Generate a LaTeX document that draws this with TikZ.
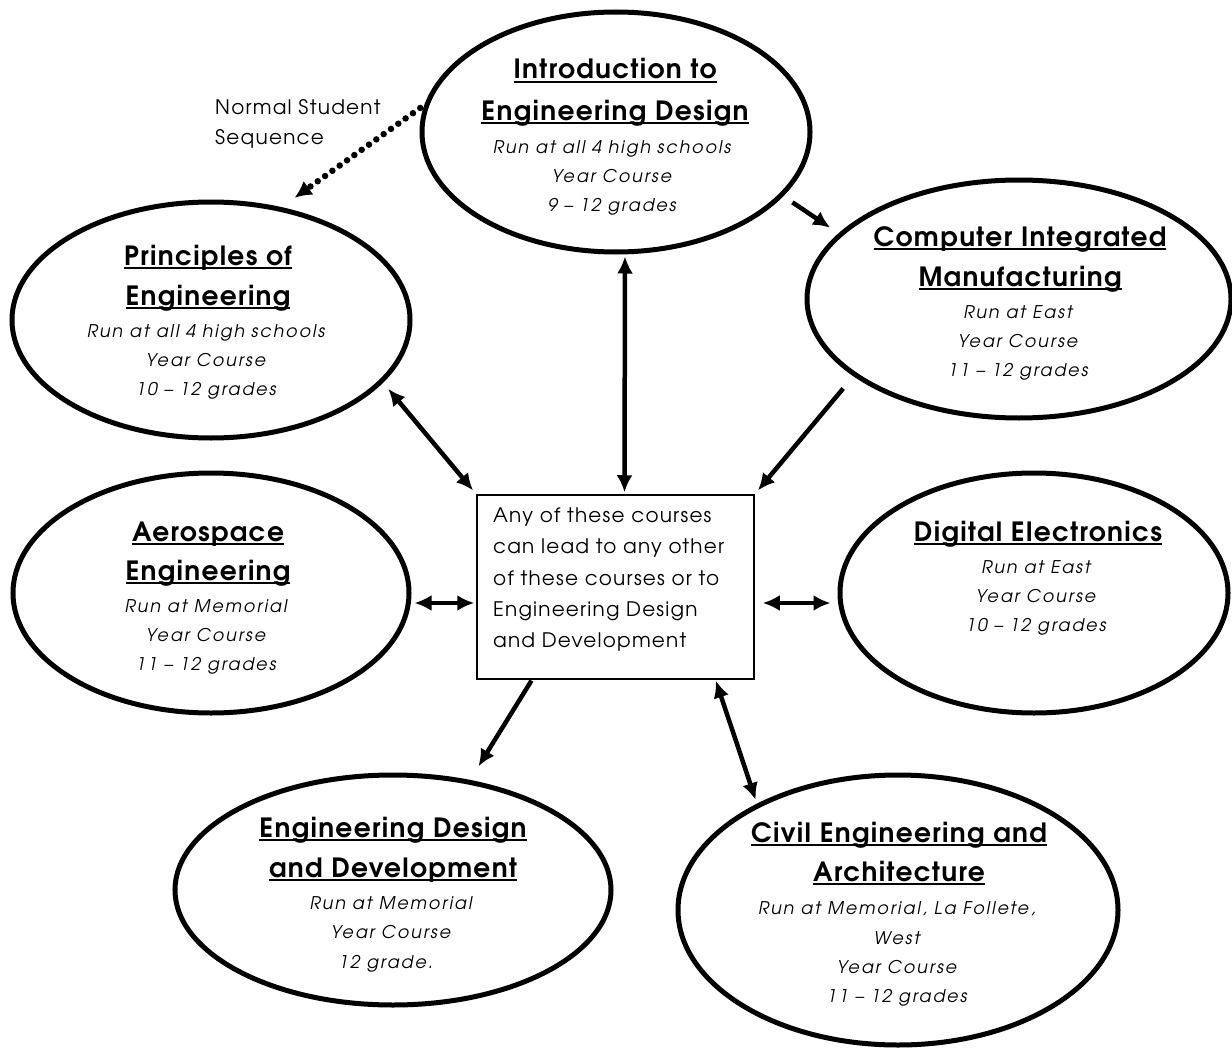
\documentclass[tikz,border=0pt]{standalone}
\usepackage{fontspec}
\setmainfont{texgyreadventor}[Extension=.otf, UprightFont=*-regular, BoldFont=*-bold, ItalicFont=*-italic, BoldItalicFont=*-bolditalic]
\usetikzlibrary{arrows.meta,shapes.geometric}
\newcommand{\ulinex}[1]{\setbox0\hbox{#1}\rlap{\rule[-0.16em]{\wd0}{0.08em}}\box0}
\tikzset{
  course/.style={ellipse, draw, line width=5pt, inner sep=0pt},
  ttl/.style={anchor=base, inner sep=0pt, font=\bfseries\fontsize{26.5}{30}\selectfont\addfontfeature{LetterSpace=5}},
  det/.style={anchor=base, inner sep=0pt, font=\itshape\fontsize{17.5}{20}\selectfont\addfontfeature{LetterSpace=11}},
  boxtxt/.style={anchor=base west, inner sep=0pt, font=\fontsize{20}{24}\selectfont\addfontfeature{LetterSpace=6}},
  arr/.style={line width=4.5pt, -{Latex[length=17pt,width=16pt]}},
  darr/.style={line width=4.5pt, {Latex[length=17pt,width=16pt]}-{Latex[length=17pt,width=16pt]}},
  dotarr/.style={line width=6.5pt, line cap=round, dash pattern=on 0pt off 9pt, -{Latex[length=17pt,width=17pt]}}
}
\begin{document}
\begin{tikzpicture}[x=1pt,y=-1pt]
\useasboundingbox[fill=white] (0,0) rectangle (1232,1049);

% ellipses
\node[course, minimum width=388pt, minimum height=240pt] (intro) at (616,132) {};
\node[course, minimum width=398pt, minimum height=236pt] (poe) at (211,320) {};
\node[course, minimum width=424pt, minimum height=238pt] (cim) at (1019,299) {};
\node[course, minimum width=396pt, minimum height=240pt] (aero) at (211,593) {};
\node[course, minimum width=388pt, minimum height=240pt] (de) at (1034,593) {};
\node[course, minimum width=436pt, minimum height=230pt] (edd) at (393,890) {};
\node[course, minimum width=440pt, minimum height=270pt] (cea) at (898,910) {};

% centre box
\node[draw, line width=1.5pt, minimum width=277pt, minimum height=184pt, inner sep=0pt] (box) at (615.5,587) {};

% Intro text
\node[ttl] (introA) at (615,79) {\ulinex{Introduction to}};
\node[ttl] (introB) at (615,120) {\ulinex{Engineering Design}};
\node[det] (introC) at (612,153) {Run at all 4 high schools};
\node[det] (introD) at (612,182) {Year Course};
\node[det] (introE) at (612,211) {9 -- 12 grades};

% Principles text
\node[ttl] (poeA) at (208,265) {\ulinex{Principles of}};
\node[ttl] (poeB) at (208,305) {\ulinex{Engineering}};
\node[det] (poeC) at (206,337) {Run at all 4 high schools};
\node[det] (poeD) at (206,366) {Year Course};
\node[det] (poeE) at (206,395) {10 -- 12 grades};

% CIM text
\node[ttl] (cimA) at (1020,246) {\ulinex{Computer Integrated}};
\node[ttl] (cimB) at (1020,286) {\ulinex{Manufacturing}};
\node[det] (cimC) at (1018,318) {Run at East};
\node[det] (cimD) at (1018,347) {Year Course};
\node[det] (cimE) at (1018,376) {11 -- 12 grades};

% Aerospace text
\node[ttl] (aeroA) at (208,541) {\ulinex{Aerospace}};
\node[ttl] (aeroB) at (208,580) {\ulinex{Engineering}};
\node[det] (aeroC) at (206,612) {Run at Memorial};
\node[det] (aeroD) at (206,641) {Year Course};
\node[det] (aeroE) at (206,670) {11 -- 12 grades};

% Digital Electronics text
\node[ttl] (deA) at (1038,541) {\ulinex{Digital Electronics}};
\node[det] (deC) at (1036,573) {Run at East};
\node[det] (deD) at (1036,602) {Year Course};
\node[det] (deE) at (1036,631) {10 -- 12 grades};

% EDD text
\node[ttl] (eddA) at (393,837) {\ulinex{Engineering Design}};
\node[ttl] (eddB) at (393,877) {\ulinex{and Development}};
\node[det] (eddC) at (391,909) {Run at Memorial};
\node[det] (eddD) at (391,938) {Year Course};
\node[det] (eddE) at (386,968) {12 grade.};

% Civil text
\node[ttl] (ceaA) at (899,842) {\ulinex{Civil Engineering and}};
\node[ttl] (ceaB) at (899,881) {\ulinex{Architecture}};
\node[det] (ceaC) at (897,914) {Run at Memorial, La Follete,};
\node[det] (ceaD) at (897,944) {West};
\node[det] (ceaE) at (897,973) {Year Course};
\node[det] (ceaF) at (897,1002) {11 -- 12 grades};

% box text
\node[boxtxt] (bx1) at (493,522) {Any of these courses};
\node[boxtxt] (bx2) at (493,553) {can lead to any other};
\node[boxtxt] (bx3) at (493,585) {of these courses or to};
\node[boxtxt] (bx4) at (493,616) {Engineering Design};
\node[boxtxt] (bx5) at (493,647) {and Development};

% normal sequence label
\node[boxtxt] (nss1) at (215,114) {Normal Student};
\node[boxtxt] (nss2) at (215,144) {Sequence};

% connectors
\draw[dotarr, shorten <=5pt, shorten >=16pt] (intro.172) -- (poe.58);
\draw[arr, shorten <=11pt, shorten >=10pt] (intro.-21) -- (cim.160.5);
\draw[darr, shorten <=8pt, shorten >=5pt] (poe.-20) -- (box.north west);
\draw[darr, shorten <=2pt, shorten >=2pt] ([xshift=9pt]intro.south) -- ([xshift=9pt]box.north);
\draw[arr, shorten <=16pt, shorten >=5pt] (cim.205.5) -- (box.north east);
\draw[darr, shorten <=3pt, shorten >=2pt] ([yshift=-10pt]aero.east) -- ([yshift=-16pt]box.west);
\draw[darr, shorten <=8pt, shorten >=7pt] ([yshift=-16pt]box.east) -- ([yshift=-10pt]de.west);
\draw[arr, shorten <=1pt, shorten >=16pt] ([xshift=-83.5pt]box.south) -- (edd.55.5);
\draw[darr, shorten <=1pt, shorten >=4pt] ([xshift=100pt]box.south) -- (cea.143.3);
\end{tikzpicture}
\end{document}
